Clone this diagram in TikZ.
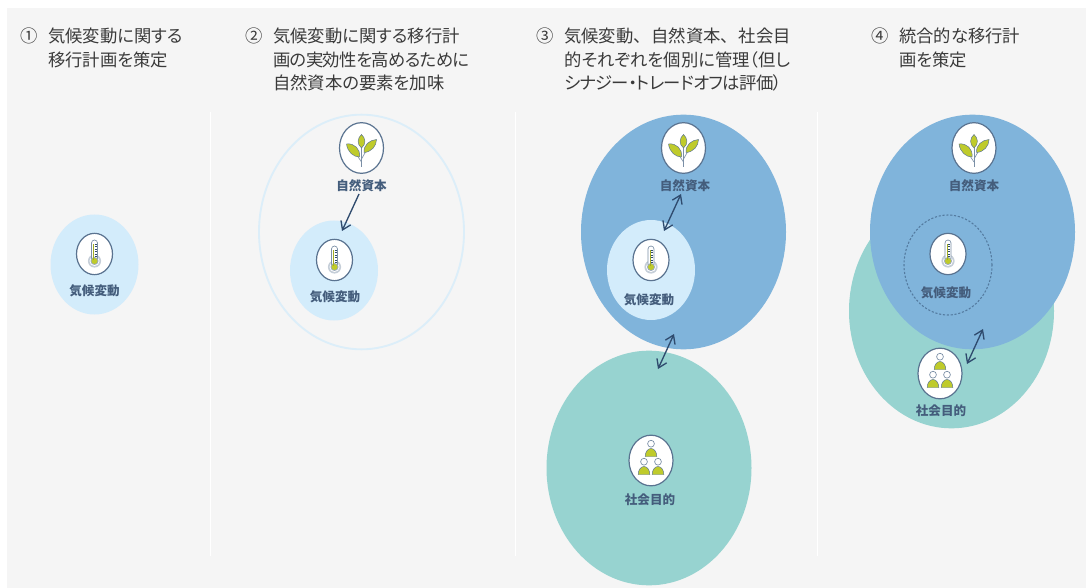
\documentclass[tikz,border=0pt]{standalone}
\usepackage{fontspec}
\setmainfont{Noto Sans CJK JP}
\newfontfamily\ttlfont[RawFeature=+palt]{Noto Sans CJK JP}
\usetikzlibrary{arrows.meta,shapes.geometric}
\definecolor{panel}{HTML}{F5F5F5}
\definecolor{climate}{HTML}{D3ECFB}
\definecolor{nature}{HTML}{80B4DB}
\definecolor{social}{HTML}{97D3D0}
\definecolor{ring}{HTML}{DCEEF9}
\definecolor{navy}{HTML}{2F4B6E}
\definecolor{iconline}{HTML}{5A7390}
\definecolor{leaf}{HTML}{BFCB2B}
\definecolor{ttl}{HTML}{3A3A3A}
\newcommand{\tightline}[1]{{\addfontfeature{LetterSpace=-3.5}#1}}
\tikzset{
  x=0.75pt,y=-0.75pt,
  blob/.style={ellipse,minimum width=#1*0.75pt,inner sep=0pt,outer sep=0pt},
  title/.style={anchor=north west,align=left,text=ttl,font=\ttlfont\fontsize{13}{17.6}\selectfont,inner sep=0pt},
  num/.style={anchor=north west,text=ttl,font=\ttlfont\fontsize{13}{17.6}\selectfont,inner sep=0pt},
  lab/.style={text=navy!90!white,font=\fontsize{9.4}{10}\selectfont\bfseries,inner sep=0pt},
  badge/.style={ellipse,draw=iconline,line width=0.9pt,fill=white,inner sep=0pt},
  link/.style={draw=navy,line width=1pt,{Straight Barb[length=6pt,width=8pt]}-{Straight Barb[length=6pt,width=8pt]}},
  oneway/.style={draw=navy,line width=1pt,-{Straight Barb[length=6pt,width=8pt]}},
  divider/.style={draw=white,line width=0.6pt},
}
% plant icon, centred on #1 #2
\newcommand{\plant}[2]{%
  \begin{scope}[shift={(#1,#2)}]
    \draw[iconline!80,line width=0.5pt] (0,19) -- (0,-4);
    \draw[iconline!80,line width=0.5pt] (0,14) -- (-4,8);
    \draw[iconline!80,line width=0.5pt] (0,11) -- (4,4);
    \fill[leaf,draw=iconline,line width=0.35pt] (0,0) .. controls (-5,-4) and (-4,-10) .. (0,-13.5) .. controls (4,-10) and (5,-4) .. (0,0) -- cycle;
    \fill[leaf,draw=iconline,line width=0.35pt] (-2,9) .. controls (-8,9) and (-14,4) .. (-15,-4) .. controls (-7,-5) and (-1,1) .. (-2,9) -- cycle;
    \fill[leaf,draw=iconline,line width=0.35pt] (2.5,4.5) .. controls (2,-3) and (8,-8) .. (15,-8.5) .. controls (15,-2) and (10,4) .. (2.5,4.5) -- cycle;
  \end{scope}}
% thermometer icon
\newcommand{\thermo}[2]{%
  \begin{scope}[shift={(#1,#2)}]
    \fill[iconline!35] (0,7) circle[radius=6.6];
    \fill[white] (0,7) circle[radius=5];
    \draw[iconline!80,line width=0.5pt,fill=white] (-3,5) -- (-3,-11) arc[start angle=180,end angle=360,radius=3] -- (3,5);
    \fill[iconline!60] (0,7) circle[radius=4];
    \fill[leaf] (0,7) circle[radius=3];
    \draw[leaf!85!black,line width=0.8pt] (-0.7,6) -- (-0.7,-10);
    \foreach \q in {-10,-7.5,-5,-2.5,0,2.5} \draw[navy,line width=0.35pt] (0,\q) -- (2.2,\q);
  \end{scope}}
% person icon, base centred on #1 #2
\newcommand{\person}[2]{%
  \begin{scope}[shift={(#1,#2)}]
    \draw[iconline!80,line width=0.5pt,fill=white] (0,-12.8) circle[radius=3.4];
    \fill[leaf,draw=iconline,line width=0.35pt] (-5.8,0) -- (5.8,0) arc[start angle=0,end angle=-180,x radius=5.8,y radius=8] -- cycle;
  \end{scope}}
\newcommand{\people}[2]{\person{#1}{#2-4}\person{#1-7}{#2+14}\person{#1+7}{#2+14}}
\begin{document}
\begin{tikzpicture}
\useasboundingbox (0,0) rectangle (1086,588);
\fill[white] (0,0) rectangle (1086,588);
\fill[panel] (7,8) rectangle (1086,588);
\coordinate (d1a) at (210,112); \coordinate (d1b) at (210,556);
\coordinate (d2a) at (515,112); \coordinate (d2b) at (515,556);
\coordinate (d3a) at (817,112); \coordinate (d3b) at (817,556);
\draw[divider] (d1a) -- (d1b);
\draw[divider] (d2a) -- (d2b);
\draw[divider] (d3a) -- (d3b);

% titles
\node[num] (n1) at (20,28) {①};
\node[title] (t1) at (48,28) {気候変動に関する\\移行計画を策定};
\node[num] (n2) at (245,28) {②};
\node[title] (t2) at (273,28) {気候変動に関する移行計\\\tightline{画の実効性を高めるために}\\自然資本の要素を加味};
\node[num] (n3) at (536,28) {③};
\node[title] (t3) at (564,28) {気候変動、\kern7pt 自然資本、\kern7pt 社会目\\的それぞれを個別に管理（但し\\\tightline{シナジー・トレードオフは評価）}};
\node[num] (n4) at (871,28) {④};
\node[title] (t4) at (899,28) {統合的な移行計\\画を策定};

% panel 1
\node[blob=88,minimum height=75pt,fill=climate] (c1) at (94.5,264.5) {};
\node[badge,minimum width=27pt,minimum height=31pt] (c1i) at (94.5,254) {};
\thermo{94.5}{254}
\node[lab] (c1l) at (94.5,291) {気候変動};

% panel 2
\node[blob=205,minimum height=176pt,draw=ring,line width=1.4pt] (r2) at (361.5,232) {};
\node[blob=88,minimum height=75pt,fill=climate] (c2) at (334,270.5) {};
\node[badge,minimum width=27pt,minimum height=31pt] (c2i) at (334.5,260) {};
\thermo{334.5}{260}
\node[lab] (c2l) at (335,297) {気候変動};
\node[badge,minimum width=33pt,minimum height=38pt] (n2i) at (361.5,148) {};
\plant{361.5}{148}
\node[lab] (n2l) at (361.5,185.5) {自然資本};
\coordinate (a2s) at (359,194); \coordinate (a2e) at (342,231);
\draw[oneway] (a2s) -- (a2e);

% panel 3
\node[blob=205,minimum height=176pt,fill=nature] (n3b) at (683.5,232) {};
\node[blob=205,minimum height=176pt,fill=social] (s3b) at (649,468) {};
\node[blob=88,minimum height=75pt,fill=climate] (c3) at (651,270) {};
\node[badge,minimum width=27pt,minimum height=31pt] (c3i) at (651,260) {};
\thermo{651}{260}
\node[lab] (c3l) at (649,299.5) {気候変動};
\node[badge,minimum width=33pt,minimum height=38pt] (n3i) at (683.5,148) {};
\plant{683.5}{148}
\node[lab] (n3l) at (685,185.5) {自然資本};
\node[badge,minimum width=33pt,minimum height=38pt] (s3i) at (651,460.5) {};
\people{651}{460.5}
\node[lab] (s3l) at (650,499.5) {社会目的};
\coordinate (a3s) at (681,194); \coordinate (a3e) at (664,231);
\draw[link] (a3s) -- (a3e);
\coordinate (a4s) at (674,334); \coordinate (a4e) at (658,369);
\draw[link] (a4s) -- (a4e);

% panel 4
\node[blob=205,minimum height=176pt,fill=social] (s4b) at (951.5,311) {};
\node[blob=205,minimum height=176pt,fill=nature] (n4b) at (972.5,232) {};
\node[blob=88,minimum height=75pt,draw=navy!55!nature,dash pattern=on 1.6pt off 1.3pt,line width=0.8pt] (c4) at (948,265) {};
\node[badge,minimum width=27pt,minimum height=31pt] (c4i) at (948,254) {};
\thermo{948}{254}
\node[lab] (c4l) at (946,293) {気候変動};
\node[badge,minimum width=33pt,minimum height=38pt] (n4i) at (974,148) {};
\plant{974}{148}
\node[lab] (n4l) at (974,185.5) {自然資本};
\node[badge,minimum width=33pt,minimum height=38pt] (s4i) at (940,373.5) {};
\people{940}{373.5}
\node[lab] (s4l) at (941,411) {社会目的};
\coordinate (a5s) at (983,329); \coordinate (a5e) at (967,364);
\draw[link] (a5s) -- (a5e);
\end{tikzpicture}
\end{document}
